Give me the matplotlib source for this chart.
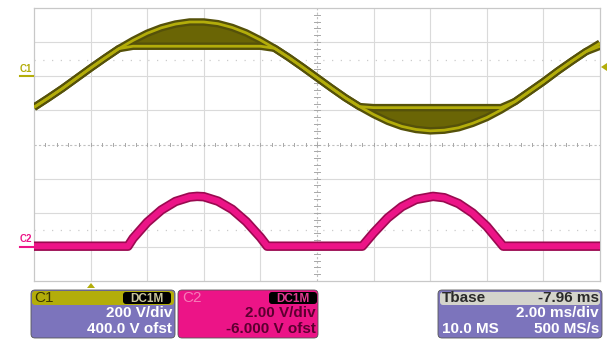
import numpy as np
import matplotlib
matplotlib.use("Agg")
import matplotlib.pyplot as plt
from matplotlib.patches import FancyBboxPatch, Polygon

plt.rcParams["font.family"] = ["Liberation Sans", "DejaVu Sans"]

# --- data (x and y in divisions, 10 x 8 grid) ---
c1_time = np.linspace(0, 10, 41)
c1_volts = [5.09, 5.36, 5.64, 5.94, 6.24, 6.53, 6.81, 7.05, 7.26, 7.42, 7.53,
            7.59, 7.59, 7.54, 7.43, 7.27, 7.06, 6.82, 6.55, 6.26, 5.96, 5.66,
            5.37, 5.11, 4.88, 4.68, 4.53, 4.44, 4.40, 4.42, 4.49, 4.62, 4.79,
            5.01, 5.26, 5.55, 5.84, 6.15, 6.44, 6.72, 6.97]
c1_clip_hi = 6.88
c1_clip_lo = 5.08

c2_time = [0.0, 1.66, 1.75, 2.0, 2.25, 2.5, 2.75, 2.88, 3.0, 3.25, 3.5, 3.75,
           4.0, 4.12, 5.80, 6.0, 6.25, 6.5, 6.75, 7.05, 7.25, 7.5, 7.75, 8.0,
           8.29, 10.0]
c2_volts = [1.02, 1.02, 1.25, 1.72, 2.08, 2.33, 2.46, 2.48, 2.47, 2.34, 2.10,
            1.74, 1.28, 1.02, 1.02, 1.41, 1.85, 2.18, 2.39, 2.48, 2.44, 2.27,
            1.99, 1.60, 1.02, 1.02]

c1_box = ["C1", "DC1M", "200 V/div", "400.0 V ofst"]
c2_box = ["C2", "DC1M", "2.00 V/div", "-6.000 V ofst"]
tbase_box = ["Tbase", "-7.96 ms", "2.00 ms/div", "10.0 MS", "500 MS/s"]

OLIVE = "#b3ad0a"
OLIVE_DARK = "#55510a"
OLIVE_FILL = "#6a6505"
MAGENTA = "#ec1487"
MAGENTA_DARK = "#9a0a50"
PURPLE = "#7c74bc"

W, H = 608, 339
fig = plt.figure(figsize=(W / 100, H / 100), dpi=100)
fig.patch.set_facecolor("white")

# scope screen: x 34..600 px, y 8..281 px
ax = fig.add_axes([34 / W, (H - 281) / H, 566 / W, 273 / H])
ax.set_xlim(0, 10)
ax.set_ylim(0, 8)
ax.set_xticks([])
ax.set_yticks([])
for s in ax.spines.values():
    s.set_color("#c8c8c8")
    s.set_linewidth(0.9)

grid_kw = dict(color="#dadada", lw=0.8, zorder=0)
for gx in range(1, 10):
    if gx != 5:
        ax.axvline(gx, **grid_kw)
for gy in range(1, 8):
    if gy != 4:
        ax.axhline(gy, **grid_kw)

# centre axes with minor ticks
ax.axhline(4, color="#c0c0c0", lw=0.8, ls=(0, (2, 2)), zorder=0)
ax.axvline(5, color="#c0c0c0", lw=0.8, ls=(0, (2, 2)), zorder=0)
for t in np.arange(0.2, 10, 0.2):
    ax.plot([t, t], [3.95, 4.05], color="#a8a8a8", lw=0.7, zorder=0)
for t in np.arange(0.2, 8, 0.2):
    ax.plot([4.94, 5.06], [t, t], color="#a8a8a8", lw=0.7, zorder=0)
for gy in (1.5, 6.48):
    ax.axhline(gy, color="#cccccc", lw=0.9, ls=(0, (1, 6)), zorder=0)

# C1 trace with clipped envelope
c1 = np.array(c1_volts)
c1_clipped = np.clip(c1, c1_clip_lo, c1_clip_hi)
ax.fill_between(c1_time, c1_clip_hi, c1, where=c1 > c1_clip_hi,
                interpolate=True, color=OLIVE_FILL, lw=0, zorder=2)
ax.fill_between(c1_time, c1, c1_clip_lo, where=c1 < c1_clip_lo,
                interpolate=True, color=OLIVE_FILL, lw=0, zorder=2)
for y in (c1, c1_clipped):
    ax.plot(c1_time, y, color=OLIVE_DARK, lw=5.4, solid_capstyle="butt", zorder=3)
for y in (c1, c1_clipped):
    ax.plot(c1_time, y, color=OLIVE, lw=2.0, solid_capstyle="butt", zorder=4)

# C2 trace
ax.plot(c2_time, c2_volts, color=MAGENTA_DARK, lw=6.8, solid_capstyle="butt",
        solid_joinstyle="round", zorder=3)
ax.plot(c2_time, c2_volts, color=MAGENTA, lw=4.4, solid_capstyle="butt",
        solid_joinstyle="round", zorder=4)

# overlay in pixel coordinates for markers and info boxes
ov = fig.add_axes([0, 0, 1, 1], zorder=5)
ov.set_xlim(0, W)
ov.set_ylim(H, 0)
ov.axis("off")
ov.patch.set_alpha(0)

ov.text(26, 69, "C1", color=OLIVE, fontsize=7, fontweight="bold",
        ha="center", va="center")
ov.plot([20, 33], [76, 76], color=OLIVE, lw=1.5)
ov.text(26, 239, "C2", color=MAGENTA, fontsize=7, fontweight="bold",
        ha="center", va="center")
ov.plot([20, 33], [247, 247], color=MAGENTA, lw=1.5)
ov.add_patch(Polygon([[87, 288], [95, 288], [91, 283]], color=OLIVE, lw=0))
ov.add_patch(Polygon([[601, 67], [607, 63], [607, 71]], color=OLIVE, lw=0))


def box(x0, x1, color):
    p = FancyBboxPatch((x0, 290), x1 - x0, 48,
                       boxstyle="round,pad=0,rounding_size=4",
                       fc=color, ec="#555555", lw=0.6)
    ov.add_patch(p)


def tag(x0, x1, text, tcolor):
    p = FancyBboxPatch((x0, 292), x1 - x0, 12,
                       boxstyle="round,pad=0,rounding_size=3",
                       fc="black", ec="none")
    ov.add_patch(p)
    ov.text((x0 + x1) / 2, 298.5, text, color=tcolor, fontsize=8.5,
            fontweight="bold", ha="center", va="center")


fs = 11
fw = "bold"
# C1 box
box(31, 175, PURPLE)
ov.add_patch(FancyBboxPatch((32, 291), 142, 14,
                            boxstyle="round,pad=0,rounding_size=3",
                            fc=OLIVE, ec="none"))
ov.text(34, 298, c1_box[0], color="#3a3600", fontsize=fs, va="center")
tag(123, 171, c1_box[1], "#c8c49a")
ov.text(172, 313, c1_box[2], color="white", fontsize=fs, fontweight=fw,
        ha="right", va="center")
ov.text(172, 329, c1_box[3], color="white", fontsize=fs, fontweight=fw,
        ha="right", va="center")

# C2 box
box(178, 318, MAGENTA)
ov.text(182, 298, c2_box[0], color="#f77ab8", fontsize=fs, va="center")
tag(269, 317, c2_box[1], "#e03a90")
ov.text(316, 313, c2_box[2], color="#5c0030", fontsize=fs, fontweight=fw,
        ha="right", va="center")
ov.text(316, 329, c2_box[3], color="#5c0030", fontsize=fs, fontweight=fw,
        ha="right", va="center")

# timebase box
box(438, 602, PURPLE)
ov.add_patch(FancyBboxPatch((440, 292), 160, 13,
                            boxstyle="round,pad=0,rounding_size=3",
                            fc="#d4d4cc", ec="none"))
ov.text(442, 298, tbase_box[0], color="#2a2a2a", fontsize=fs, fontweight=fw,
        va="center")
ov.text(599, 298, tbase_box[1], color="#2a2a2a", fontsize=fs, fontweight=fw,
        ha="right", va="center")
ov.text(599, 313, tbase_box[2], color="white", fontsize=fs, fontweight=fw,
        ha="right", va="center")
ov.text(442, 329, tbase_box[3], color="white", fontsize=fs, fontweight=fw,
        va="center")
ov.text(599, 329, tbase_box[4], color="white", fontsize=fs, fontweight=fw,
        ha="right", va="center")

fig.savefig("out.png", dpi=100)
